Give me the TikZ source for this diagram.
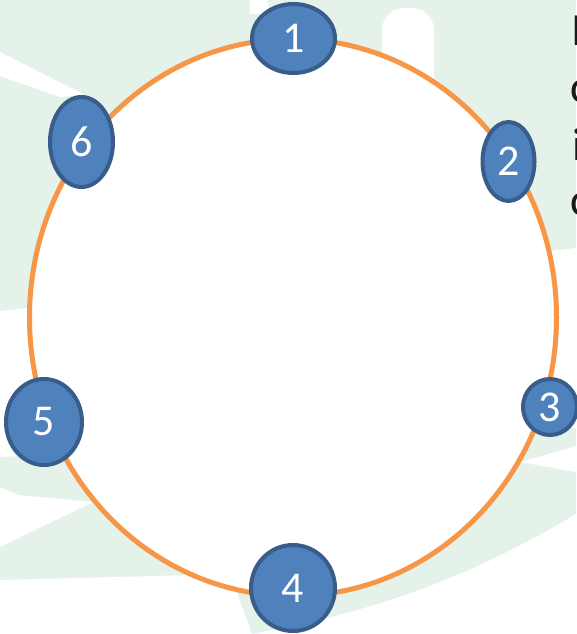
\documentclass[tikz,border=0pt]{standalone}
\usepackage{fontspec}
\setmainfont{Carlito}
\usetikzlibrary{shapes.geometric}
\definecolor{mint}{HTML}{E4F2EA}
\definecolor{ringorange}{HTML}{F79646}
\definecolor{nodeblue}{HTML}{4F81BD}
\definecolor{nodeedge}{HTML}{385D8A}
\tikzset{
  num/.style={ellipse, draw=nodeedge, fill=nodeblue, line width=4pt, inner sep=0pt,
    text=white, font=\fontsize{44}{44}\selectfont},
  sidetext/.style={anchor=base west, inner sep=0pt, text=black!90, font=\fontsize{46}{46}\selectfont},
}
\begin{document}
\begin{tikzpicture}[x=1pt,y=-1pt]
\useasboundingbox (0,0) rectangle (576,634);
% background
\fill[mint] (0,0) rectangle (576,634);
\fill[white] (0,311) -- (576,248) -- (576,428) -- (0,457) -- cycle;
\fill[white] (520,462) -- (576,446) -- (576,472) -- cycle;
\fill[white] (0,580) -- (230,574) -- (252,634) -- (0,634) -- cycle;
\fill[white] (250,634) .. controls (380,612) and (480,572) .. (576,514) -- (576,634) -- cycle;
\fill[white] (0,487) -- (18,495) -- (93,502) -- (0,547) -- cycle;
\fill[white] (0,52) -- (85,95) -- (60,97) -- (0,76) -- cycle;
\fill[white] (250,0) rectangle (268,14);
\fill[white, rounded corners=22pt] (382,100) -- (382,8) -- (434,8) -- (434,100);
% ring
\node[ellipse, draw=ringorange, fill=white, line width=5pt, minimum width=527pt, minimum height=557pt, inner sep=0pt] (ring) at (293,317.5) {};
% numbered nodes
\node[num, minimum width=83pt, minimum height=69pt] (n1) at (293.5,38.5) {1};
\node[num, minimum width=52pt, minimum height=79pt] (n2) at (508.5,161.5) {2};
\node[num, minimum width=54pt, minimum height=56pt] (n3) at (550,407) {3};
\node[num, minimum width=84pt, minimum height=86pt] (n4) at (293,588) {4};
\node[num, minimum width=76pt, minimum height=86pt] (n5) at (44,422) {5};
\node[num, minimum width=63pt, minimum height=90pt] (n6) at (81.5,142) {6};
% cut-off text at right
\node[sidetext] (t1) at (571,46) {I};
\node[sidetext] (t2) at (570,102) {c};
\node[sidetext] (t3) at (572,160) {i};
\node[sidetext] (t4) at (570,215) {c};
\end{tikzpicture}
\end{document}
